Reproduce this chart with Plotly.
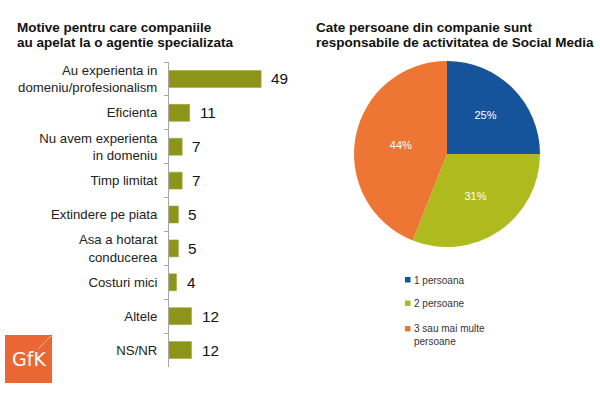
import plotly.graph_objects as go

# ---- data ----
reasons = [
    "Au experienta in<br>domeniu/profesionalism",
    "Eficienta",
    "Nu avem experienta<br>in domeniu",
    "Timp limitat",
    "Extindere pe piata",
    "Asa a hotarat<br>conducerea",
    "Costuri mici",
    "Altele",
    "NS/NR",
]
reason_values = [49, 11, 7, 7, 5, 5, 4, 12, 12]

people_labels = ["1 persoana", "2 persoane", "3 sau mai multe<br>persoane"]
people_values = [25, 31, 44]
people_colors = ["#15549A", "#AFBA1F", "#EE7634"]

title_left_lines = ["Motive pentru care companiile", "au apelat la o agentie specializata"]
title_right_lines = ["Cate persoane din companie sunt", "responsabile de activitatea de Social Media"]

FONT = "Liberation Sans, Arial, sans-serif"
W, H = 600, 394

fig = go.Figure()

fig.add_trace(go.Bar(
    x=reason_values, y=reasons, orientation="h",
    marker=dict(color="#8C9419", line=dict(color="#A3AA3A", width=0.6)),
    width=0.5, showlegend=False, hoverinfo="x+y",
))

for v, r in zip(reason_values, reasons):
    fig.add_annotation(x=v, y=r, xref="x", yref="y", text=str(v),
                       showarrow=False, xanchor="left", xshift=8,
                       font=dict(family=FONT, size=15.3, color="#111111"))

fig.add_trace(go.Pie(
    values=people_values, labels=people_labels,
    marker=dict(colors=people_colors),
    sort=False, direction="clockwise", rotation=0,
    texttemplate="%{value}%", textposition="inside",
    insidetextorientation="horizontal",
    insidetextfont=dict(family=FONT, size=11, color="white"),
    domain=dict(x=[354 / W, 540 / W], y=[1 - 247 / H, 1 - 61 / H]),
    showlegend=False, hoverinfo="label+percent",
))

# manual legend built from the pie arrays
leg_y = [280, 303.5, 335]
for lab, col, ly in zip(people_labels, people_colors, leg_y):
    top = ly - 3 if "<br>" not in lab else ly - 9
    fig.add_shape(type="rect", xref="paper", yref="paper",
                  x0=405 / W, x1=410.5 / W, y0=1 - (top + 5.5) / H, y1=1 - top / H,
                  fillcolor=col, line=dict(width=0))
    fig.add_annotation(x=412 / W, y=1 - ly / H, xref="paper", yref="paper",
                       text=lab, showarrow=False, xanchor="left", yanchor="middle",
                       align="left", font=dict(family=FONT, size=10, color="#333333"))

# titles (one annotation per line for tight line spacing)
for lines, x0 in ((title_left_lines, 15), (title_right_lines, 314)):
    for line, yc in zip(lines, (27, 42.5)):
        fig.add_annotation(x=x0 / W, y=1 - yc / H, xref="paper", yref="paper",
                           text="<b>" + line + "</b>", showarrow=False,
                           xanchor="left", yanchor="middle", align="left",
                           font=dict(family=FONT, size=13.5, color="#111111"))

# GfK logo
fig.add_shape(type="rect", xref="paper", yref="paper",
              x0=5 / W, x1=52 / W, y0=1 - 383 / H, y1=1 - 335 / H,
              fillcolor="#EA6632", line=dict(width=0))
fig.add_shape(type="line", xref="paper", yref="paper",
              x0=38 / W, x1=51 / W, y0=1 - 349 / H, y1=1 - 336 / H,
              line=dict(color="rgba(255,220,190,0.7)", width=1))
fig.add_annotation(x=28.5 / W, y=1 - 359 / H, xref="paper", yref="paper", text="GfK",
                   showarrow=False, xanchor="center", yanchor="middle",
                   font=dict(family="DejaVu Sans, sans-serif", size=19, color="white"))

fig.update_layout(
    width=W, height=H,
    margin=dict(l=0, r=0, t=0, b=0),
    paper_bgcolor="white", plot_bgcolor="white",
    font=dict(family=FONT, size=13.2, color="#222222"),
    xaxis=dict(domain=[169 / W, (169 + 112.8) / W], range=[0, 60],
               visible=False, fixedrange=True),
    yaxis=dict(domain=[1 - 367 / H, 1 - 62 / H], autorange="reversed",
               type="category", showline=True, linecolor="#A6A6A6", linewidth=1,
               ticks="outside", tickson="boundaries", ticklen=4, tickcolor="#A6A6A6",
               ticklabelstandoff=8, showgrid=False, zeroline=False,
               tickfont=dict(family=FONT, size=13.2, color="#222222")),
    bargap=0.5,
)

fig.write_html("out.html", config={"displayModeBar": False},
               post_script="document.body.style.margin='0';")
